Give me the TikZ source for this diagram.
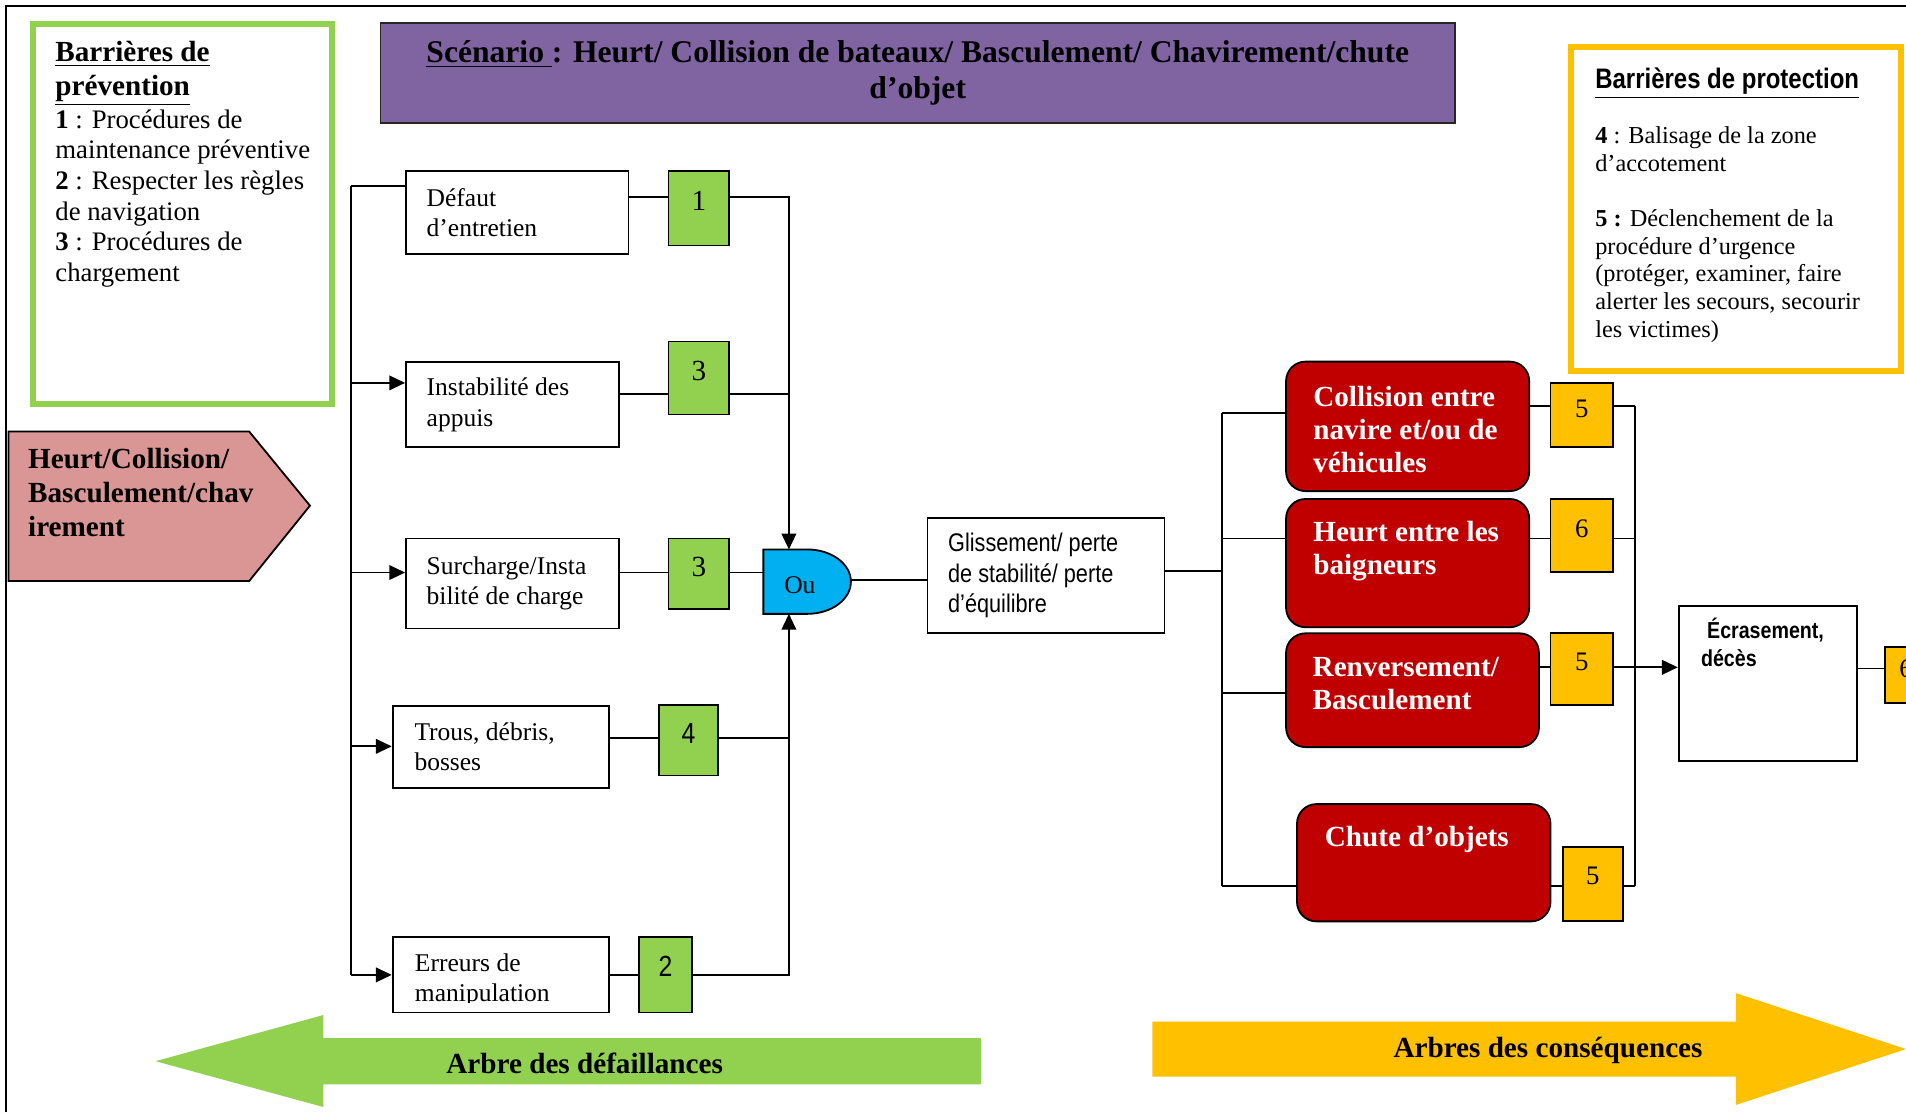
\documentclass[tikz,border=0pt]{standalone}
\usepackage{fontspec}
\setmainfont{Liberation Serif}
\setsansfont{Liberation Sans}
\newfontfamily\cnsans[FakeStretch=0.85]{Liberation Sans}
\usetikzlibrary{arrows.meta,fit,calc}
\definecolor{cgreen}{HTML}{92D050}
\definecolor{cyellow}{HTML}{FFC000}
\definecolor{cpurple}{HTML}{8064A2}
\definecolor{cpink}{HTML}{D99694}
\definecolor{cred}{HTML}{C00000}
\definecolor{cblue}{HTML}{00B0F0}
\newcommand{\fsz}[2]{\fontsize{#1}{#2}\selectfont}
\newcommand{\ptb}[2]{\parbox[t]{#1}{\raggedright #2}}
\newcommand{\pcb}[2]{\parbox{#1}{\raggedright #2}}
\begin{document}
\begin{tikzpicture}[x=0.5pt,y=-0.5pt,
  ln/.style={line width=0.75pt},
  arr/.style={line width=0.75pt,-{Triangle[length=6.5pt,width=6pt]}},
  cbox/.style={draw, line width=0.75pt, fill=white, inner sep=0pt, font=\fsz{10.5}{12.5}},
  gnum/.style={draw, line width=0.75pt, fill=cgreen, inner sep=0pt, font=\fsz{12}{14}},
  ynum/.style={draw, line width=0.75pt, fill=cyellow, inner sep=0pt, font=\fsz{11}{13}},
  rbox/.style={draw, line width=0.75pt, fill=cred, inner sep=0pt, rounded corners=8pt},
  rtxt/.style={anchor=base west, inner sep=0pt, text=white, font=\fsz{12}{13.5}\bfseries},
  txt/.style={anchor=base west, inner sep=0pt},
  lbl/.style={anchor=base, inner sep=0pt, font=\fsz{12}{14}\bfseries}
]
\useasboundingbox (0,0) rectangle (1568,915);
\clip (0,0) rectangle (1568,915);

% frame
\draw[line width=0.8pt] (5,915) -- (5,5) -- (1568,5);

% prevention legend
\node[draw=cgreen, line width=2.5pt, inner sep=0pt, fit={(27.5,19.5)(273.5,332.5)}] (prev) {};
\node[txt] (prevt) at (45.2,50.7) {\ptb{120pt}{\fsz{12}{13.75}\bfseries\underline{Barrières de}\\\underline{prévention}\par\vspace{1pt}\fsz{11}{12.6}\mdseries\textbf{1} : Procédures de\\maintenance préventive\\\textbf{2} : Respecter les règles\\de navigation\\\textbf{3} : Procédures de\\chargement}};

% protection legend
\node[draw=cyellow, line width=2.5pt, inner sep=0pt, fit={(1292.5,38.5)(1563.5,305.5)}] (prot) {};
\node[txt, font=\cnsans\bfseries\fsz{11.6}{14}] (prott) at (1312,72.7) {\underline{Barrières de protection}};
\node[txt, font=\fsz{10}{11.4}] (protb) at (1312,117.9) {\ptb{135pt}{\textbf{4} : Balisage de la zone\\d’accotement\\[11.4pt]\textbf{5 :} Déclenchement de la\\procédure d’urgence\\(protéger, examiner, faire\\alerter les secours, secourir\\les victimes)}};

% title
\node[draw=black!85, line width=0.75pt, fill=cpurple, inner sep=0pt, minimum width=442pt, minimum height=41pt, font=\fsz{13}{14.5}\bfseries] (title) at (755,60) {\parbox{430pt}{\centering\underline{Scénario\ }: Heurt/ Collision de bateaux/ Basculement/ Chavirement/chute\\d’objet}};

% event pentagon
\draw[ln, fill=cpink] (7,355) -- (205,355) -- (255,416) -- (205,478) -- (7,478) -- cycle;
\node[txt, font=\fsz{12}{14}\bfseries] (evt) at (22.8,385.3) {\ptb{100pt}{Heurt/Collision/\\Basculement/chav\\irement}};

% causes
\node[cbox, minimum width=91.5pt, minimum height=34pt] (defaut) at (425.5,175) {\pcb{74.5pt}{Défaut\\d’entretien}};
\node[cbox, minimum width=87.5pt, minimum height=35pt] (instab) at (421.5,333) {\pcb{70.5pt}{Instabilité des\\appuis}};
\node[cbox, minimum width=87.5pt, minimum height=37pt] (surch) at (421.5,480) {\pcb{70.5pt}{Surcharge/Insta\\bilité de charge}};
\node[cbox, minimum width=89pt, minimum height=33.5pt] (trous) at (412,614.5) {\pcb{71pt}{Trous, débris,\\bosses}};
\node[cbox, minimum width=89pt, minimum height=31pt] (erreurs) at (412,802) {};
\begin{scope}
\clip (323,771) rectangle (501,825);
\node[txt, font=\fsz{10.5}{12.5}] (erreurst) at (341,799) {\ptb{71pt}{Erreurs de\\manipulation}};
\end{scope}

% prevention barriers
\node[gnum, minimum width=25pt, minimum height=30.5pt] (g1) at (575,171.5) {\raisebox{6pt}{1}};
\node[gnum, minimum width=25pt, minimum height=30pt] (g3a) at (575,311) {\raisebox{6pt}{3}};
\node[gnum, minimum width=25pt, minimum height=29pt] (g3b) at (575,472) {\raisebox{6pt}{3}};
\node[gnum, font=\cnsans\fsz{12}{14}, minimum width=24.5pt, minimum height=29pt] (g4) at (566.5,609) {\raisebox{6pt}{4}};
\node[gnum, font=\cnsans\fsz{12}{14}, minimum width=21.5pt, minimum height=31pt] (g2) at (547.5,802) {\raisebox{7pt}{2}};

% OR gate
\filldraw[ln, fill=cblue] (628,452) -- (664,452) arc[start angle=90, end angle=-90, x radius=18pt, y radius=13.25pt] -- (628,505) -- cycle;
\node[inner sep=0pt, anchor=base, font=\fsz{10.5}{12}] (ou) at (658,488) {Ou};
\coordinate (gtop) at (649,452);
\coordinate (gbot) at (649,505);
\coordinate (gin) at (628,471);
\coordinate (gout) at (700,477);

% central event
\node[cbox, font=\cnsans\fsz{10.5}{12.5}, minimum width=97.5pt, minimum height=47.5pt] (glis) at (860.5,473.5) {\pcb{80.5pt}{Glissement/ perte\\de stabilité/ perte\\d’équilibre}};

% consequences
\node[rbox, fit={(1058,297.5)(1258,404)}] (red1) {};
\node[rbox, fit={(1058,410.5)(1258,516)}] (red2) {};
\node[rbox, fit={(1058,521)(1266,614.6)}] (red3) {};
\node[rbox, fit={(1067,661.5)(1275.5,758)}] (red4) {};
\node[rtxt] (red1t) at (1080,334.5) {\ptb{110pt}{Collision entre\\navire et/ou de\\véhicules}};
\node[rtxt] (red2t) at (1080,445.6) {\ptb{110pt}{Heurt entre les\\baigneurs}};
\node[rtxt] (red3t) at (1079.5,556.7) {\ptb{110pt}{Renversement/\\Basculement}};
\node[rtxt] (red4t) at (1089.5,696.5) {Chute d’objets};

% protection barriers
\node[ynum, minimum width=25.75pt, minimum height=26.5pt] (y5a) at (1301.25,341.5) {\raisebox{5pt}{5}};
\node[ynum, minimum width=25.75pt, minimum height=30pt] (y6) at (1301.25,440.5) {\raisebox{6pt}{6}};
\node[ynum, minimum width=25.75pt, minimum height=29.75pt] (y5c) at (1301.25,550.25) {\raisebox{6pt}{5}};
\node[ynum, minimum width=24.7pt, minimum height=30.75pt] (y5d) at (1310.3,727.25) {\raisebox{7pt}{5}};
\node[ynum, minimum width=24.5pt, minimum height=23pt] (y6b) at (1575.5,555) {\raisebox{5pt}{\hspace*{-7.5pt}6}};

% final consequence
\node[draw, line width=0.75pt, fill=white, inner sep=0pt, fit={(1381,498.5)(1528,626)}] (ecr) {};
\node[txt, font=\cnsans\bfseries\fsz{9.5}{11.5}] (ecrt) at (1399,525) {\ptb{70pt}{\hspace*{2.5pt}Écrasement,\\décès}};

% left connectors
\coordinate (lbt) at (289,153);
\coordinate (lbb) at (289,802);
\draw[ln] (lbt) -- (lbb);
\draw[ln] (lbt) -- (lbt -| defaut.west);
\coordinate (lb1) at (289,315);
\draw[arr] (lb1) -- (lb1 -| instab.west);
\coordinate (lb2) at (289,471);
\draw[arr] (lb2) -- (lb2 -| surch.west);
\coordinate (lb3) at (289,614);
\draw[arr] (lb3) -- (lb3 -| trous.west);
\draw[arr] (lbb) -- (lbb -| erreurs.west);

\coordinate (ra) at (649,162);
\draw[ln] (ra -| defaut.east) -- (ra -| g1.west);
\draw[arr] (ra -| g1.east) -- (ra) -- (gtop);
\coordinate (rb) at (649,324);
\draw[ln] (rb -| instab.east) -- (rb -| g3a.west);
\draw[ln] (rb -| g3a.east) -- (rb);
\draw[ln] (gin -| surch.east) -- (gin -| g3b.west);
\draw[ln] (gin -| g3b.east) -- (gin);
\coordinate (rd) at (649,607);
\draw[ln] (rd -| trous.east) -- (rd -| g4.west);
\draw[ln] (rd -| g4.east) -- (rd);
\coordinate (re) at (649,802);
\draw[ln] (re -| erreurs.east) -- (re -| g2.west);
\draw[arr] (re -| g2.east) -- (re) -- (gbot);
\draw[ln] (gout) -- (gout -| glis.west);

% right connectors
\coordinate (rg) at (1005,470);
\draw[ln] (rg -| glis.east) -- (rg);
\coordinate (rbt) at (1005,340);
\coordinate (rbb) at (1005,729);
\draw[ln] (rbt) -- (rbb);
\draw[ln] (rbt) -- (rbt -| red1.west);
\coordinate (rb2) at (1005,443);
\draw[ln] (rb2) -- (rb2 -| red2.west);
\coordinate (rb3) at (1005,570);
\draw[ln] (rb3) -- (rb3 -| red3.west);
\draw[ln] (rbb) -- (rbb -| red4.west);

\coordinate (sa) at (1345,334);
\coordinate (sd) at (1345,729);
\draw[ln] (sa) -- (sd);
\draw[ln] (sa -| red1.east) -- (sa -| y5a.west);
\draw[ln] (sa -| y5a.east) -- (sa);
\coordinate (sb) at (1345,443);
\draw[ln] (sb -| red2.east) -- (sb -| y6.west);
\draw[ln] (sb -| y6.east) -- (sb);
\coordinate (sc) at (1345,549);
\draw[ln] (sc -| red3.east) -- (sc -| y5c.west);
\draw[arr] (sc -| y5c.east) -- (sc -| ecr.west);
\draw[ln] (sd -| red4.east) -- (sd -| y5d.west);
\draw[ln] (sd -| y5d.east) -- (sd);
\coordinate (ec) at (1528,550);
\draw[ln] (ec -| ecr.east) -- (ec -| y6b.west);

% bottom arrows
\fill[cgreen] (128,873) -- (266,835) -- (266,854) -- (807,854) -- (807,892) -- (266,892) -- (266,910.7) -- cycle;
\node[lbl] (arbd) at (481,883) {Arbre des défaillances};
\fill[cyellow] (948,840.5) -- (1428,840.5) -- (1428,817) -- (1568,863) -- (1428,909) -- (1428,885.7) -- (948,885.7) -- cycle;
\node[lbl] (arbc) at (1273.5,869.8) {Arbres des conséquences};
\end{tikzpicture}
\end{document}
